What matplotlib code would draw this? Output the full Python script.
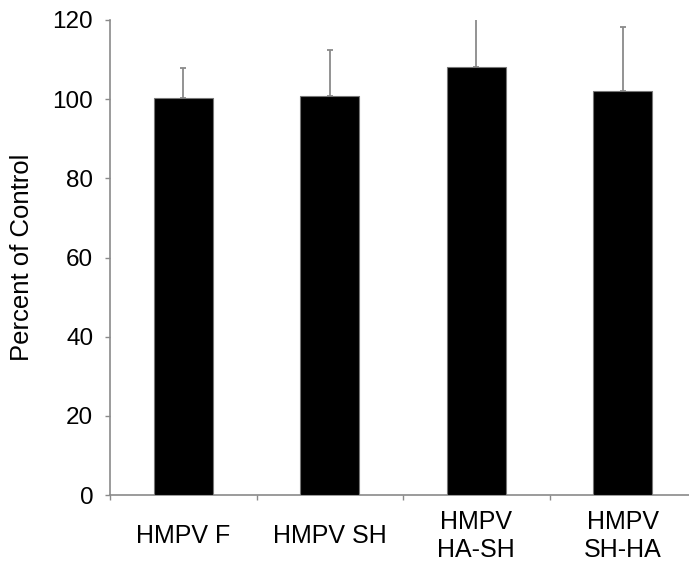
import matplotlib
matplotlib.use("Agg")
import matplotlib.pyplot as plt
import numpy as np

categories = ["HMPV F", "HMPV SH", "HMPV\nHA-SH", "HMPV\nSH-HA"]
values = [100.4, 100.8, 108.2, 102.0]
errors = [7.4, 11.5, 12.1, 16.2]
yticks = [0, 20, 40, 60, 80, 100, 120]

plt.rcParams['font.family'] = ['Liberation Sans', 'DejaVu Sans']

fig = plt.figure(figsize=(6.89, 5.66), dpi=100)
ax = fig.add_axes([110/689, 1-495/566, (696-110)/689, (495-20)/566])

x = np.arange(len(categories))
gray = '#8a8a8a'
ax.bar(x, values, width=0.40, color='black', edgecolor='#777777', linewidth=0.8, zorder=3)
ax.errorbar(x, values, yerr=[[0]*len(errors), errors], fmt='none', ecolor=gray,
            elinewidth=1.3, capsize=2.5, capthick=1.3, zorder=2)

ax.set_xlim(-0.5, 3.5)
ax.set_ylim(0, 120)
ax.set_yticks(yticks)
ax.set_yticklabels([str(t) for t in yticks], fontsize=17.5)
ax.tick_params(axis='y', direction='out', length=3.6, width=1.0, color=gray, pad=8.5)

ax.set_xticks(x)
ax.set_xticklabels(categories, fontsize=18, linespacing=1.2)
ax.tick_params(axis='x', which='major', length=0, pad=29.5)
for lab in ax.get_xticklabels():
    lab.set_va('center')
ax.set_xticks(np.arange(-0.5, 4.0, 1.0), minor=True)
ax.tick_params(axis='x', which='minor', direction='out', length=3.6, width=1.0, color=gray)

for s in ['top', 'right']:
    ax.spines[s].set_visible(False)
for s in ['left', 'bottom']:
    ax.spines[s].set_color(gray)
    ax.spines[s].set_linewidth(1.2)

ax.set_ylabel("Percent of Control", fontsize=18.5)
ax.yaxis.set_label_coords(34/689, 1-257.5/566, transform=fig.transFigure)

fig.savefig("out.png", dpi=100)
